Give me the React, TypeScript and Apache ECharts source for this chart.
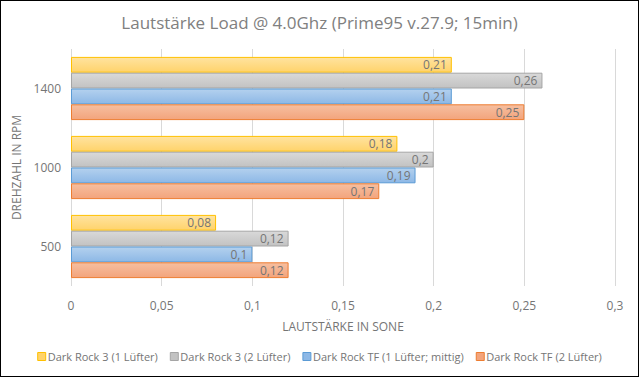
import React, { useEffect, useRef } from "react";
import * as echarts from "echarts";

const categories = ["500", "1000", "1400"];
const seriesNames = [
  "Dark Rock 3 (1 Lüfter)",
  "Dark Rock 3 (2 Lüfter)",
  "Dark Rock TF (1 Lüfter; mittig)",
  "Dark Rock TF (2 Lüfter)",
];
const darkRock3One = [0.08, 0.18, 0.21];
const darkRock3Two = [0.12, 0.2, 0.26];
const darkRockTFOne = [0.1, 0.19, 0.21];
const darkRockTFTwo = [0.12, 0.17, 0.25];
const xTicks = [0, 0.05, 0.1, 0.15, 0.2, 0.25, 0.3];

const styles = [
  { top: "#FFE3A0", bottom: "#FFD36B", border: "#FFC000" },
  { top: "#D9D9D9", bottom: "#C2C2C2", border: "#A5A5A5" },
  { top: "#B4D1EE", bottom: "#8DB8E6", border: "#5B9BD5" },
  { top: "#F6BFA0", bottom: "#F3A47C", border: "#ED7D31" },
];

const fmt = (v: number) => String(v).replace(".", ",");

export default function App() {
  const ref = useRef<HTMLDivElement>(null);
  useEffect(() => {
    if (!ref.current) return;
    const chart = echarts.init(ref.current, undefined, { renderer: "svg" });
    const dataSets = [darkRock3One, darkRock3Two, darkRockTFOne, darkRockTFTwo];
    const font = "Open Sans, Noto Sans, sans-serif";
    const makeSeries = (i: number) => ({
      name: seriesNames[i],
      type: "bar",
      data: dataSets[i],
      barGap: "0%",
      barCategoryGap: "20%",
      itemStyle: {
        color: new echarts.graphic.LinearGradient(0, 0, 0, 1, [
          { offset: 0, color: styles[i].top },
          { offset: 1, color: styles[i].bottom },
        ]),
        borderColor: styles[i].border,
        borderWidth: 1,
      },
      label: {
        show: true,
        position: "insideRight",
        color: "#757575",
        fontSize: 12,
        fontFamily: font,
        formatter: (p: any) => fmt(p.value),
      },
    });
    chart.setOption({
      animation: false,
      title: {
        text: "Lautstärke Load @ 4.0Ghz (Prime95 v.27.9; 15min)",
        left: "center",
        top: 8,
        textStyle: { color: "#808080", fontSize: 17, fontWeight: "normal", fontFamily: font },
      },
      legend: {
        data: seriesNames.map((n, i) => ({
          name: n,
          itemStyle: { color: styles[i].bottom, borderColor: styles[i].border, borderWidth: 1 },
        })),
        bottom: 9,
        left: "center",
        itemWidth: 8,
        itemHeight: 8,
        itemGap: 12,
        icon: "rect",
        textStyle: { color: "#757575", fontSize: 11, fontFamily: font, padding: [0, 0, 0, -3] },
      },
      grid: { left: 70, right: 23, top: 48, bottom: 90, containLabel: false },
      xAxis: {
        type: "value",
        min: 0,
        max: 0.3,
        interval: 0.05,
        axisLine: { show: false },
        axisTick: { show: false },
        splitLine: { lineStyle: { color: "#d9d9d9" } },
        axisLabel: {
          color: "#757575",
          fontSize: 12,
          fontFamily: font,
          margin: 13,
          formatter: (v: number) => (xTicks.includes(Math.round(v * 100) / 100) ? fmt(Math.round(v * 100) / 100) : ""),
        },
        name: "LAUTSTÄRKE IN SONE",
        nameLocation: "middle",
        nameGap: 34,
        nameTextStyle: { color: "#757575", fontSize: 12, fontFamily: font },
      },
      yAxis: {
        type: "category",
        data: categories,
        axisLine: { show: false },
        axisTick: { show: false },
        axisLabel: { color: "#757575", fontSize: 12, fontFamily: font, margin: 10 },
        name: "DREHZAHL IN RPM",
        nameLocation: "middle",
        nameGap: 28,
        nameTextStyle: { color: "#757575", fontSize: 12, fontFamily: font },
      },
      series: [makeSeries(0), makeSeries(1), makeSeries(2), makeSeries(3)],
    });
    return () => chart.dispose();
  }, []);
  return (
    <div
      style={{
        position: "fixed",
        left: 0,
        top: 0,
        width: 639,
        height: 377,
        boxSizing: "border-box",
        border: "1px solid #000",
        background: "#fff",
      }}
    >
      <div ref={ref} style={{ width: 637, height: 375 }} />
    </div>
  );
}
